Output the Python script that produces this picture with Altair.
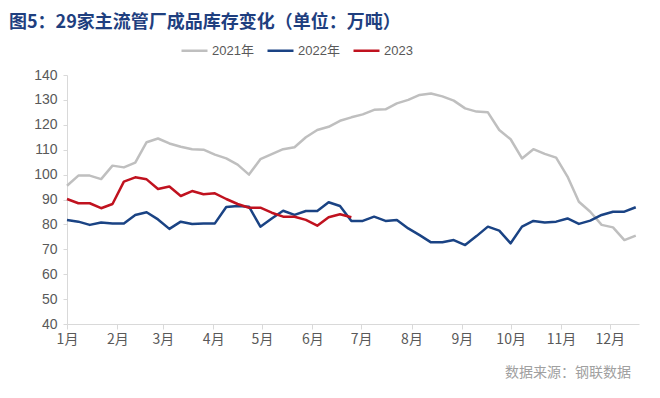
import altair as alt
import pandas as pd

title_text = "图5：29家主流管厂成品库存变化（单位：万吨）"
source_text = "数据来源：钢联数据"

series_names = ["2021年", "2022年", "2023"]
series_colors = ["#BFBFBF", "#1A4384", "#C0121F"]

# weekly observations, day offset from 1 Jan
v2021 = [95.5, 99.6, 99.6, 98.2, 103.6, 102.9, 104.8, 113.0, 114.5, 112.5,
         111.2, 110.2, 110.0, 108.0, 106.5, 104.0, 100.0, 106.2, 108.2, 110.2,
         111.0, 115.0, 117.9, 119.2, 121.6, 123.0, 124.2, 126.0, 126.2, 128.6,
         130.0, 132.0, 132.6, 131.4, 129.7, 126.6, 125.3, 125.0, 117.9, 114.2,
         106.5, 110.2, 108.3, 106.8, 99.2, 89.1, 85.1, 79.8, 78.8, 73.7, 75.5]
v2022 = [81.8, 81.1, 79.8, 80.8, 80.4, 80.4, 83.8, 84.9, 82.0, 78.2,
         81.1, 80.2, 80.4, 80.4, 87.0, 87.4, 87.1, 79.1, 82.4, 85.5,
         83.8, 85.4, 85.4, 88.9, 87.4, 81.4, 81.4, 83.1, 81.4, 81.8,
         78.4, 75.7, 72.8, 72.8, 73.7, 71.7, 75.3, 79.1, 77.5, 72.4,
         79.1, 81.4, 80.8, 81.1, 82.4, 80.2, 81.5, 83.8, 85.1, 85.1, 86.9]
v2023 = [90.2, 88.5, 88.5, 86.5, 88.2, 97.2, 98.9, 98.1, 94.2, 95.2,
         91.4, 93.4, 92.1, 92.5, 90.2, 88.2, 86.7, 86.7, 84.7, 83.1,
         83.1, 81.8, 79.5, 82.9, 84.1, 82.9]

month_labels = ["1月", "2月", "3月", "4月", "5月", "6月", "7月", "8月", "9月", "10月", "11月", "12月"]
month_start_days = [0, 31, 59, 90, 120, 151, 181, 212, 243, 273, 304, 334]
y_ticks = [40, 50, 60, 70, 80, 90, 100, 110, 120, 130, 140]

rows = []
for name, vals in zip(series_names, [v2021, v2022, v2023]):
    for i, v in enumerate(vals):
        rows.append({"day": 7 * i, "value": v, "series": name})
df = pd.DataFrame(rows)

label_expr = "[" + ",".join("'%s'" % m for m in month_labels) + "][indexof([" + \
    ",".join(str(d) for d in month_start_days) + "], datum.value)]"

narrow = "Liberation Sans Narrow, Arial Narrow, Liberation Sans, Arial, sans-serif"
cjk = "Noto Sans CJK SC"

lines = alt.Chart(df).mark_line(strokeWidth=2.5, strokeJoin="round").encode(
    x=alt.X("day:Q",
            scale=alt.Scale(domain=[0, 352], nice=False, zero=False),
            axis=alt.Axis(values=month_start_days, labelExpr=label_expr, title=None,
                          grid=False, domainColor="#D9D9D9", tickColor="#D9D9D9",
                          tickSize=5, labelPadding=3, labelFontSize=14,
                          labelFlush=False, labelOverlap=False,
                          labelColor="#595959", labelFont=cjk)),
    y=alt.Y("value:Q",
            scale=alt.Scale(domain=[40, 140], nice=False, zero=False),
            axis=alt.Axis(values=y_ticks, title=None, grid=False,
                          domainColor="#D9D9D9", tickColor="#D9D9D9", tickSize=4,
                          labelPadding=6, labelFontSize=14, labelColor="#595959",
                          labelFont=narrow)),
    color=alt.Color("series:N",
                    scale=alt.Scale(domain=series_names, range=series_colors),
                    sort=series_names,
                    legend=alt.Legend(title=None, orient="none", direction="horizontal",
                                      legendX=113, legendY=-39,
                                      symbolType="stroke", symbolSize=676,
                                      symbolStrokeWidth=2.5, labelFontSize=13,
                                      labelFont=narrow + ", " + cjk,
                                      labelColor="#595959", labelOffset=3,
                                      columnPadding=8)),
    order=alt.Order("day:Q"),
)

source = alt.Chart(pd.DataFrame({"t": [source_text]})).mark_text(
    align="right", baseline="middle", fontSize=14, color="#A0A0A0", font=cjk
).encode(x=alt.value(564), y=alt.value(298), text="t:N")

chart = alt.layer(lines, source).properties(
    width=572, height=249,
    padding={"left": 59, "top": 67, "right": 13, "bottom": 60},
    autosize=alt.AutoSizeParams(type="none"),
    title=alt.Title(title_text, anchor="start", frame="group", fontSize=18,
                    font=cjk, fontWeight="bold", color="#1F3F7F", dx=-58, dy=0),
).configure_view(stroke=None)

chart.save("out.html", embed_options={"renderer": "svg", "actions": False})
